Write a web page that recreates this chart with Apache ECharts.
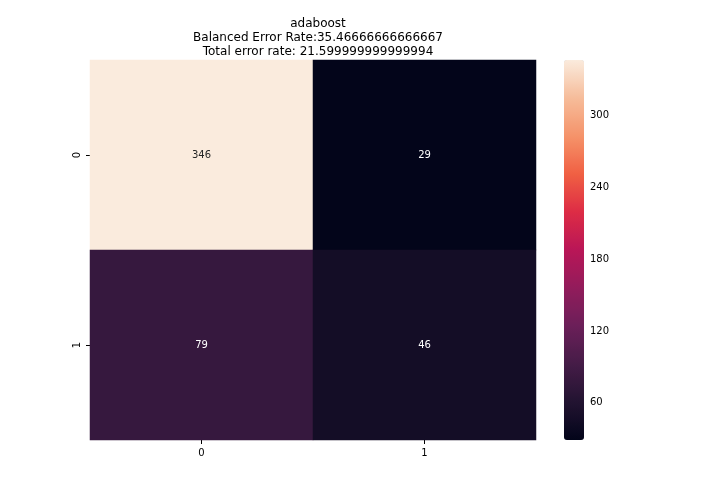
<!DOCTYPE html>
<html><head><meta charset="utf-8">
<script src="https://cdn.jsdelivr.net/npm/echarts@6/dist/echarts.min.js"></script>
<style>html,body{margin:0;background:#fff}#c{width:720px;height:504px}</style></head>
<body><div id="c"></div>
<script>
const xCats = ['0','1'];
const yCats = ['0','1'];
const cells = [[0,0,346],[1,0,29],[0,1,79],[1,1,46]];
const barTicks = [60,120,180,240,300];
const titleLines = ['adaboost','Balanced Error Rate:35.46666666666667','Total error rate: 21.599999999999994'];
const vmin = 29, vmax = 346;
const rocket = ['#03051a','#221331','#451c47','#6b1f59','#921c5b','#b91657','#dd2c45','#f06043','#f5936a','#f6bc9a','#faebdd'];
const chart = echarts.init(document.getElementById('c'));
const ax = {color:'#000',fontSize:10,fontFamily:'DejaVu Sans'};
chart.setOption({
  animation:false,
  title:{text:titleLines.join('\n'),left:313,top:12,textAlign:'center',
    textStyle:{fontSize:12,fontWeight:'normal',color:'#000',fontFamily:'DejaVu Sans',lineHeight:14}},
  grid:[{left:90,top:60,width:446,height:380},{left:564,top:60,width:20,height:380,show:true,borderWidth:0}],
  xAxis:[{type:'category',data:xCats,gridIndex:0,axisLine:{show:false},axisTick:{show:true,alignWithLabel:true,length:4,lineStyle:{color:'#000'}},axisLabel:{...ax,margin:8},splitLine:{show:false}},
    {type:'value',gridIndex:1,show:false,min:0,max:1}],
  yAxis:[{type:'category',data:yCats,inverse:true,gridIndex:0,axisLine:{show:false},axisTick:{show:true,alignWithLabel:true,length:4,lineStyle:{color:'#000'}},axisLabel:{...ax,rotate:90,margin:8},splitLine:{show:false}},
    {type:'value',gridIndex:1,position:'right',min:vmin,max:vmax,axisLine:{show:false},splitLine:{show:false},
     axisTick:{show:true,length:4,customValues:barTicks,lineStyle:{color:'#000'}},axisLabel:{...ax,margin:6,customValues:barTicks}}],
  visualMap:{type:'continuous',min:vmin,max:vmax,calculable:false,seriesIndex:0,inRange:{color:rocket},
    orient:'vertical',left:564,top:60,itemWidth:20,itemHeight:380,padding:0,text:null,showLabel:false,textGap:0},
  series:[{type:'heatmap',xAxisIndex:0,yAxisIndex:0,data:cells,
    label:{show:true,fontSize:10,fontFamily:'DejaVu Sans',formatter:p=>p.value[2],
      color:'#fff'},
    itemStyle:{borderWidth:0}}]
});
chart.setOption({series:[{data:cells.map(c=>({value:c,label:{color:c[2]>200?'#262626':'#fff'}}))}]});
</script></body></html>
